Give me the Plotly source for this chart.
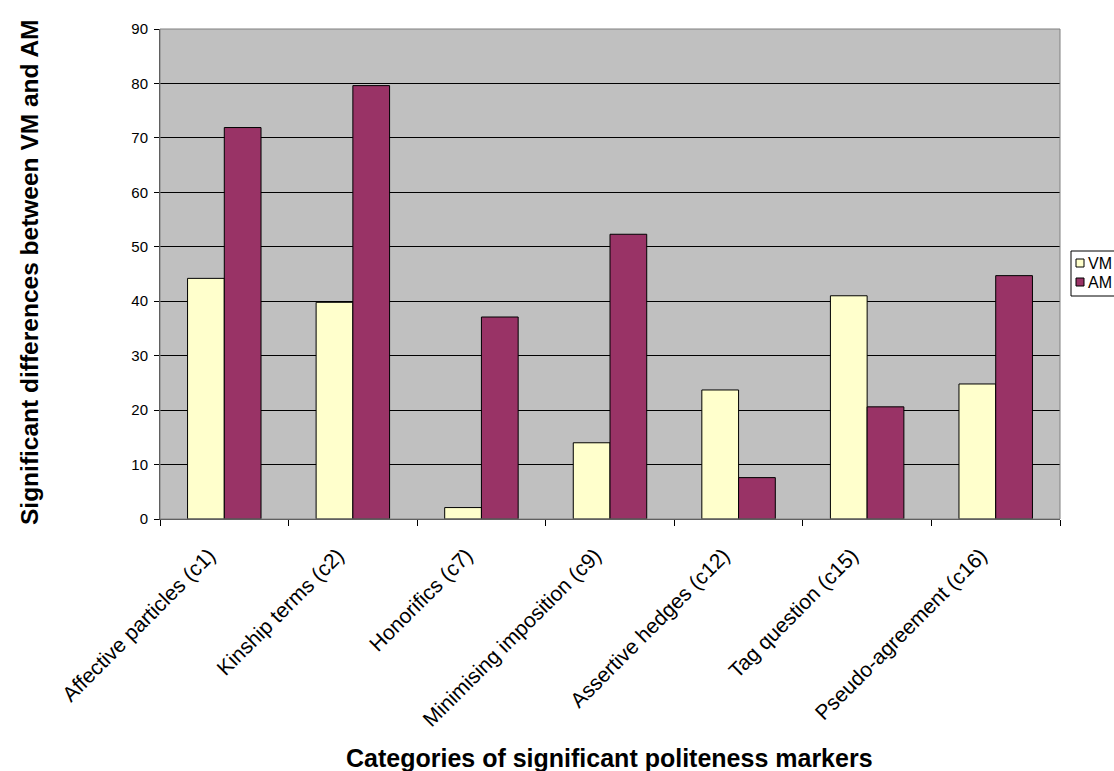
import plotly.graph_objects as go

categories = ["Affective particles (c1)", "Kinship terms (c2)", "Honorifics (c7)",
              "Minimising imposition (c9)", "Assertive hedges (c12)",
              "Tag question (c15)", "Pseudo-agreement (c16)"]
vm_values = [44.2, 39.8, 2.1, 14.0, 23.7, 41.0, 24.8]
am_values = [71.9, 79.6, 37.1, 52.3, 7.6, 20.6, 44.7]
series_names = ["VM", "AM"]
series_colors = ["#FFFFCC", "#993366"]
y_ticks = [0, 10, 20, 30, 40, 50, 60, 70, 80, 90]

FONT = "Arial, 'Liberation Sans', sans-serif"

fig = go.Figure()
for name, vals, col in zip(series_names, [vm_values, am_values], series_colors):
    fig.add_trace(go.Bar(name=name, x=categories, y=vals,
                         marker=dict(color=col, line=dict(color="#000000", width=1))))

L, R, T, B = 160, 54, 29, 252
W, H = 1114, 771
pw, ph = W - L - R, H - T - B


def px(x):
    return (x - L) / pw


def py(y):
    return (H - B - y) / ph


shapes = [dict(type="rect", xref="paper", yref="paper", x0=0, x1=1, y0=0, y1=1,
               line=dict(color="#808080", width=1), fillcolor="rgba(0,0,0,0)", layer="above")]
annotations = [
    dict(text="<b>Categories of significant politeness markers</b>", xref="paper", yref="paper",
         x=px(609), y=py(758), xanchor="center", yanchor="middle",
         showarrow=False, font=dict(size=25, family=FONT)),
    dict(text="<b>Significant differences between VM and AM</b>", xref="paper", yref="paper",
         x=px(29), y=py(272), xanchor="center", yanchor="middle",
         textangle=-90, showarrow=False, font=dict(size=24.5, family=FONT)),
]

# legend (drawn manually to match the compact key layout)
shapes.append(dict(type="rect", xref="paper", yref="paper", x0=px(1071), x1=px(1125),
                   y0=py(296), y1=py(251), line=dict(color="#000000", width=1),
                   fillcolor="white", layer="above"))
for i, (name, col) in enumerate(zip(series_names, series_colors)):
    yc = 263 + i * 19
    shapes.append(dict(type="rect", xref="paper", yref="paper", x0=px(1076), x1=px(1084),
                       y0=py(yc + 4), y1=py(yc - 4), line=dict(color="#000000", width=1),
                       fillcolor=col, layer="above"))
    annotations.append(dict(text=name, xref="paper", yref="paper", x=px(1086), y=py(yc),
                            xanchor="left", yanchor="middle", showarrow=False,
                            font=dict(size=16, family=FONT)))

fig.update_layout(
    width=W, height=H,
    margin=dict(l=L, r=R, t=T, b=B, autoexpand=False),
    paper_bgcolor="white",
    plot_bgcolor="#C0C0C0",
    barmode="group",
    bargap=1.5 / 3.5,
    bargroupgap=0,
    font=dict(family=FONT, color="#000000"),
    showlegend=False,
    xaxis=dict(
        type="category",
        tickangle=-45,
        tickfont=dict(size=21, family=FONT),
        ticks="outside", ticklen=6, tickcolor="#000000", tickwidth=1,
        tickson="boundaries",
        ticklabelstandoff=15, ticklabelshift=-15,
        showline=True, linecolor="#404040", linewidth=1,
        showgrid=False, mirror=False,
    ),
    yaxis=dict(
        range=[0, 90],
        tickvals=y_ticks,
        tickfont=dict(size=15, family=FONT),
        ticks="outside", ticklen=5, tickcolor="#000000", tickwidth=1,
        ticklabelstandoff=3,
        showline=True, linecolor="#404040", linewidth=1,
        showgrid=True, gridcolor="#000000", gridwidth=1,
        zeroline=False,
    ),
    shapes=shapes,
    annotations=annotations,
)

fig.write_html("out.html")
